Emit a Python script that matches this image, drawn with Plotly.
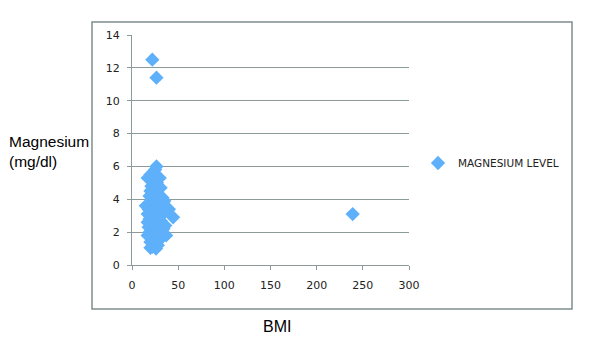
import plotly.graph_objects as go

bmi = [22.0, 26.5, 239, 44.5, 40, 37, 26.5, 25, 30, 17, 20, 22, 28, 31, 20, 24, 33, 35, 15, 18,
       21, 28, 36, 17, 25, 30, 19, 23, 27, 33, 36, 18, 21, 25, 29, 33, 17, 22, 26, 20,
       24, 22, 26, 20, 28, 23, 26, 19, 29, 24, 22, 31, 27, 20, 24, 30, 34, 19, 27, 23,
       31, 21, 26, 32, 20, 22, 28, 31, 25, 23, 27, 21, 24, 29, 25, 23, 27, 21, 28, 22,
       30, 18, 24, 26, 32, 35, 29, 31, 26, 17, 21]
magnesium = [12.5, 11.4, 3.1, 2.9, 3.4, 1.8, 6.0, 5.8, 5.3, 5.3, 5.5, 5.1, 4.7, 4.7, 4.5, 4.4, 4.1, 3.9, 3.6, 3.4,
             3.2, 3.3, 3.3, 3.1, 3.0, 3.0, 2.8, 2.7, 2.6, 2.5, 2.4, 2.3, 2.2, 2.1, 2.0, 1.9, 1.8, 1.7, 1.6, 1.4,
             1.3, 1.1, 1.0, 1.05, 1.2, 4.0, 4.2, 4.2, 3.8, 3.6, 3.5, 3.5, 2.9, 2.5, 2.4, 2.3, 2.2, 2.0, 1.9, 1.85,
             1.6, 3.8, 3.9, 3.6, 3.0, 2.9, 2.7, 2.7, 2.5, 2.3, 2.2, 1.9, 1.5, 1.5, 4.8, 4.9, 5.0, 4.8, 4.3, 4.6,
             4.1, 3.7, 3.3, 3.5, 3.2, 3.2, 2.5, 2.1, 2.8, 2.6, 2.7]
series_name = "MAGNESIUM LEVEL"
x_ticks = [0, 50, 100, 150, 200, 250, 300]
y_ticks = [0, 2, 4, 6, 8, 10, 12, 14]

W, H = 600, 344
L, R, T, B = 132, 409, 35, 265
pw, ph = R - L, B - T

def px(xp):
    return (xp - L) / pw

def py(yp):
    return (B - yp) / ph

fig = go.Figure()
fig.add_trace(go.Scatter(
    x=bmi, y=magnesium, mode="markers", name=series_name,
    marker=dict(symbol="diamond", size=11, color="#5fb0fa", line=dict(width=0)),
))

tickfont = dict(family="DejaVu Sans", size=11, color="#222222")
fig.update_layout(
    width=W, height=H,
    margin=dict(l=L, r=W - R, t=T, b=H - B),
    paper_bgcolor="white", plot_bgcolor="white",
    showlegend=True,
    legend=dict(x=px(418), y=py(163), xanchor="left", yanchor="middle",
                font=dict(family="DejaVu Sans", size=10.5, color="#222222"),
                itemwidth=30, bgcolor="rgba(0,0,0,0)"),
    xaxis=dict(range=[0, 300], tickvals=x_ticks, showgrid=False, zeroline=False,
               showline=True, linecolor="#8c9a9a", linewidth=1,
               ticks="outside", ticklen=4, tickcolor="#8c9a9a", tickfont=tickfont,
               ticklabelstandoff=6),
    yaxis=dict(range=[0, 14], tickvals=y_ticks, showgrid=True, gridcolor="#8c9a9a",
               gridwidth=1, zeroline=False,
               showline=True, linecolor="#8c9a9a", linewidth=1,
               ticks="outside", ticklen=4, tickcolor="#8c9a9a", tickfont=tickfont,
               ticklabelstandoff=5),
    shapes=[dict(type="rect", xref="paper", yref="paper",
                 x0=px(92), x1=px(572), y0=py(309), y1=py(22),
                 line=dict(color="#7f8f8f", width=1.5), layer="below")],
    annotations=[
        dict(text="Magnesium<br>(mg/dl)", xref="paper", yref="paper",
             x=px(7), y=py(151), xanchor="left", yanchor="middle", align="left",
             showarrow=False, font=dict(family="Liberation Sans", size=15.5, color="black")),
        dict(text="BMI", xref="paper", yref="paper",
             x=px(277), y=py(326), xanchor="center", yanchor="middle",
             showarrow=False, font=dict(family="Liberation Sans", size=16, color="black")),
    ],
)

fig.write_html("out.html")
